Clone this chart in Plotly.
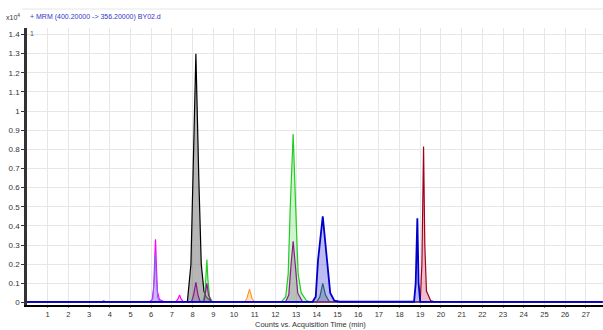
import plotly.graph_objects as go

# ---- data (time in min, counts in x10^4) ----
t_end = 27.8
base = 0.003

red_small_t = [0, 3.55, 3.7, 3.85, t_end]
red_small_v = [base, base, 0.009, base, base]

orange_t = [0, 10.5, 10.62, 10.75, 10.88, 11.0, t_end]
orange_v = [base, base, 0.02, 0.07, 0.02, base, base]

magenta_t = [0, 5.9, 6.05, 6.12, 6.17, 6.21, 6.25, 6.3, 6.4, 6.6, 7.2, 7.3, 7.37, 7.44, 7.55, t_end]
magenta_v = [base, base, 0.015, 0.08, 0.22, 0.33, 0.2, 0.06, 0.015, 0.005, 0.004, 0.02, 0.04, 0.02, 0.004, base]

violet_t = [5.95, 6.08, 6.15, 6.2, 6.25, 6.32, 6.45]
violet_v = [base, 0.02, 0.12, 0.25, 0.12, 0.02, base]

black_t = [0, 7.75, 7.92, 8.02, 8.16, 8.30, 8.42, 8.55, 8.65, 8.75, 8.9, t_end]
black_v = [base, 0.005, 0.2, 0.65, 1.30, 0.65, 0.2, 0.06, 0.03, 0.02, 0.004, base]

green_t = [0, 8.5, 8.6, 8.65, 8.69, 8.74, 8.82, 8.95, 12.3, 12.5, 12.62, 12.72, 12.86, 12.98, 13.1, 13.25, 13.5, 13.7, t_end]
green_v = [base, 0.005, 0.05, 0.15, 0.225, 0.12, 0.03, 0.005, 0.004, 0.03, 0.15, 0.5, 0.88, 0.5, 0.15, 0.05, 0.01, 0.004, base]

purple_t = [0, 7.95, 8.05, 8.16, 8.26, 8.35, 8.55, 8.62, 8.69, 8.77, 8.9, 12.5, 12.65, 12.76, 12.86, 12.96, 13.08, 13.3, t_end]
purple_v = [base, 0.004, 0.04, 0.105, 0.04, 0.008, 0.004, 0.05, 0.1, 0.04, 0.005, 0.004, 0.04, 0.2, 0.32, 0.2, 0.05, 0.005, base]

dkgreen_t = [0, 14.0, 14.15, 14.29, 14.42, 14.6, t_end]
dkgreen_v = [base, base, 0.03, 0.10, 0.04, 0.005, base]

dkred_t = [0, 19.0, 19.08, 19.16, 19.22, 19.3, 19.5, 19.7, t_end]
dkred_v = [base, 0.004, 0.2, 0.815, 0.3, 0.06, 0.01, 0.004, base]

blue_t = [0, 13.8, 13.95, 14.06, 14.29, 14.5, 14.65, 14.85, 15.1, 18.7, 18.78, 18.86, 18.92, 19.0, t_end]
blue_v = [base, 0.004, 0.03, 0.22, 0.45, 0.22, 0.05, 0.01, 0.004, 0.004, 0.1, 0.44, 0.1, 0.004, base]

x_ticks = list(range(1, 28))
y_ticks = [i / 10 for i in range(0, 15)]
y_labels = ["0", "0.1", "0.2", "0.3", "0.4", "0.5", "0.6", "0.7", "0.8", "0.9", "1", "1.1", "1.2", "1.3", "1.4"]

series = [
    (red_small_t, red_small_v, "#cc3333", "rgba(204,51,51,0.3)", 1),
    (orange_t, orange_v, "#ff8c00", "rgba(255,165,60,0.35)", 1),
    (magenta_t, magenta_v, "#ff00ff", "rgba(255,120,255,0.35)", 1.2),
    (violet_t, violet_v, "#7b68ee", "rgba(160,150,240,0.45)", 1),
    (black_t, black_v, "#000000", "rgba(110,110,110,0.5)", 1.2),
    (green_t, green_v, "#22cc22", "rgba(120,220,120,0.35)", 1.2),
    (purple_t, purple_v, "#8b1a8b", "rgba(140,100,140,0.35)", 1.2),
    (dkgreen_t, dkgreen_v, "#006633", "rgba(60,120,90,0.35)", 1.2),
    (dkred_t, dkred_v, "#a00020", "rgba(220,110,140,0.45)", 1.2),
    (blue_t, blue_v, "#0000cc", "rgba(90,90,220,0.4)", 1.8),
]

fig = go.Figure()
for t, v, lc, fc, w in series:
    fig.add_trace(go.Scatter(x=t, y=v, mode="lines", line=dict(color=lc, width=w),
                             fill="tozeroy", fillcolor=fc, hoverinfo="skip"))

font_fam = "Liberation Sans Narrow, Arial Narrow, Liberation Sans, sans-serif"
plot_h = 330 - 28 - 25

fig.update_layout(
    width=603, height=330,
    margin=dict(l=27, r=0, t=28, b=25),
    paper_bgcolor="white", plot_bgcolor="white",
    showlegend=False,
    font=dict(family=font_fam, size=9, color="#333333"),
    xaxis=dict(range=[0, 27.83], tickvals=x_ticks, ticktext=[str(v) for v in x_ticks],
               automargin=False,
               showgrid=True, gridcolor="#e6e6e6", gridwidth=1, zeroline=False,
               showline=True, linecolor="#000000", linewidth=1.5,
               ticks="outside", ticklen=1, tickcolor="#888888",
               tickfont=dict(size=7.5, family=font_fam, color="#333333")),
    yaxis=dict(range=[-0.013, 1.434], tickvals=y_ticks, ticktext=y_labels,
               automargin=False,
               showgrid=True, gridcolor="#e6e6e6", gridwidth=1, zeroline=False,
               showline=True, linecolor="#333333", linewidth=2.5,
               ticks="outside", ticklen=3, tickcolor="#333333",
               tickfont=dict(size=8, family=font_fam, color="#333333")),
)

fig.add_annotation(text="Counts vs. Acquisition Time (min)", xref="paper", yref="paper",
                   x=(310 - 27) / 576, y=-(330 - 305) / plot_h, yanchor="bottom", xanchor="center",
                   borderpad=0, showarrow=False, font=dict(size=7.5, family=font_fam, color="#333333"))
fig.add_annotation(text="x10<sup>4</sup>", xref="paper", yref="paper",
                   x=(4 - 27) / 576, y=1 + (28 - 17) / plot_h, xanchor="left", yanchor="middle",
                   showarrow=False, font=dict(size=7, family=font_fam, color="#333333"))
fig.add_annotation(text="+ MRM (400.20000 -> 356.20000) BY02.d", xref="paper", yref="paper",
                   x=(28 - 27) / 576, y=1 + (28 - 17) / plot_h, xanchor="left", yanchor="middle",
                   showarrow=False, font=dict(size=7, family=font_fam, color="#3333cc"))
fig.add_annotation(text="1", xref="paper", yref="paper",
                   x=(28 - 27) / 576, y=1 - (33 - 28) / plot_h, xanchor="left", yanchor="middle",
                   showarrow=False, font=dict(size=7, family=font_fam, color="#555555"))
fig.add_shape(type="line", xref="paper", yref="paper",
              x0=(22 - 27) / 576, x1=1, y0=1 + (28 - 9) / plot_h, y1=1 + (28 - 9) / plot_h,
              line=dict(color="#e6e6e6", width=1))

fig.write_html("out.html", config={"displayModeBar": False},
               post_script="document.body.style.margin='0';")
